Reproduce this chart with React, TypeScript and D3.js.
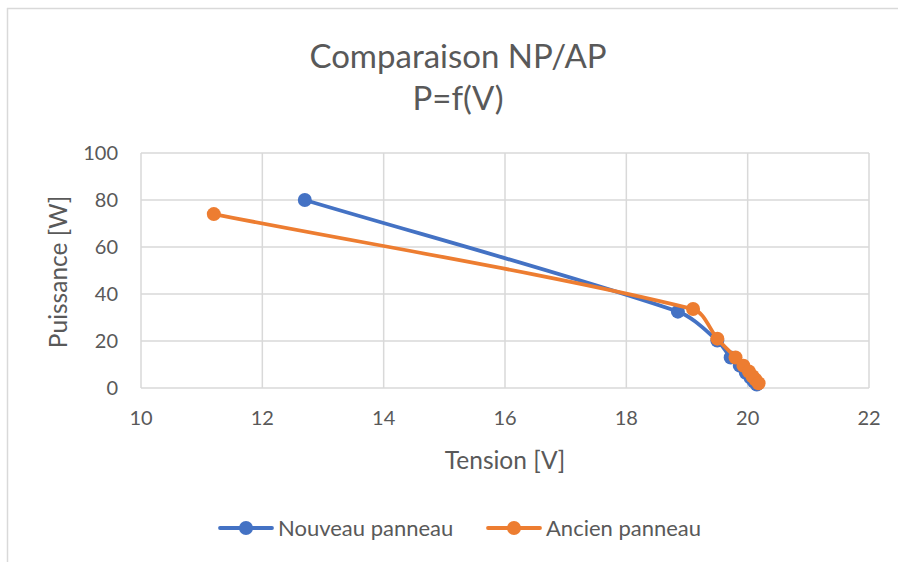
import React from "react";
import * as d3 from "d3";

const nouveauV = [12.7, 18.85, 19.5, 19.72, 19.87, 19.97, 20.05, 20.1, 20.15];
const nouveauP = [80, 32.5, 20.2, 13, 9.5, 6.5, 4.3, 2.8, 1.5];
const ancienV = [11.2, 19.1, 19.5, 19.8, 19.93, 20.02, 20.08, 20.13, 20.18];
const ancienP = [74, 33.6, 21, 13, 9.5, 7, 5, 3.5, 2];
const xTicks = [10, 12, 14, 16, 18, 20, 22];
const yTicks = [0, 20, 40, 60, 80, 100];
const seriesNames = ["Nouveau panneau", "Ancien panneau"];
const colors = ["#4472C4", "#ED7D31"];

const W = 898, H = 562;
const FONT = "Lato, 'Open Sans', sans-serif";

// Excel-like smoothing: tangent direction from neighbours, handle length scaled by segment length
function smoothPath(pts: [number, number][], k = 0.3): string {
  const path = d3.path();
  const n = pts.length;
  const dirs = pts.map((p, i) => {
    const a = pts[Math.max(0, i - 1)];
    const b = pts[Math.min(n - 1, i + 1)];
    const dx = b[0] - a[0], dy = b[1] - a[1];
    const l = Math.hypot(dx, dy) || 1;
    return [dx / l, dy / l];
  });
  path.moveTo(pts[0][0], pts[0][1]);
  for (let i = 0; i < n - 1; i++) {
    const p0 = pts[i], p1 = pts[i + 1];
    const len = Math.hypot(p1[0] - p0[0], p1[1] - p0[1]);
    path.bezierCurveTo(
      p0[0] + dirs[i][0] * len * k, p0[1] + dirs[i][1] * len * k,
      p1[0] - dirs[i + 1][0] * len * k, p1[1] - dirs[i + 1][1] * len * k,
      p1[0], p1[1]
    );
  }
  return path.toString();
}

export default function App() {
  const x = d3.scaleLinear().domain([10, 22]).range([141, 869]);
  const y = d3.scaleLinear().domain([0, 100]).range([388, 153]);
  const series = [
    nouveauV.map((v, i) => [x(v), y(nouveauP[i])] as [number, number]),
    ancienV.map((v, i) => [x(v), y(ancienP[i])] as [number, number]),
  ];
  const txt = "#595959";
  return (
    <svg width={W} height={H} style={{ position: "absolute", left: 0, top: 0, background: "#fff" }} fontFamily={FONT}>
      <line x1={7.5} x2={7.5} y1={8} y2={H} stroke="#d9d9d9" strokeWidth={1.5} />
      <line x1={7} x2={W} y1={8.5} y2={8.5} stroke="#d9d9d9" strokeWidth={1.5} />
      <text x={458} y={68} textAnchor="middle" fontSize={33} fill={txt}>Comparaison NP/AP</text>
      <text x={458} y={110} textAnchor="middle" fontSize={33} fill={txt}>P=f(V)</text>
      {xTicks.map((t) => (
        <line key={"gx" + t} x1={x(t)} x2={x(t)} y1={y(100)} y2={y(0)} stroke="#d9d9d9" strokeWidth={1.5} />
      ))}
      {yTicks.map((t) => (
        <line key={"gy" + t} x1={x(10)} x2={x(22)} y1={y(t)} y2={y(t)} stroke="#d9d9d9" strokeWidth={1.5} />
      ))}
      {xTicks.map((t) => (
        <text key={"tx" + t} x={x(t)} y={425} textAnchor="middle" fontSize={20} fill={txt}>{t}</text>
      ))}
      {yTicks.map((t) => (
        <text key={"ty" + t} x={118} y={y(t) + 7} textAnchor="end" fontSize={20} fill={txt}>{t}</text>
      ))}
      <text x={505} y={469} textAnchor="middle" fontSize={24.5} fill={txt}>Tension [V]</text>
      <text transform="translate(67,272) rotate(-90)" textAnchor="middle" fontSize={24.5} fill={txt}>Puissance [W]</text>
      {series.map((s, i) => (
        <g key={"s" + i}>
          <path d={smoothPath(s)} fill="none" stroke={colors[i]} strokeWidth={3.8} strokeLinecap="round" />
          {s.map((d, j) => (
            <circle key={j} cx={d[0]} cy={d[1]} r={7} fill={colors[i]} />
          ))}
        </g>
      ))}
      {seriesNames.map((n, i) => {
        const lx = i === 0 ? 220 : 488;
        return (
          <g key={"l" + i}>
            <line x1={lx} x2={lx + 52} y1={528} y2={528} stroke={colors[i]} strokeWidth={3.8} strokeLinecap="round" />
            <circle cx={lx + 26} cy={528} r={7} fill={colors[i]} />
            <text x={lx + 58} y={536} fontSize={22} fill={txt}>{n}</text>
          </g>
        );
      })}
    </svg>
  );
}
